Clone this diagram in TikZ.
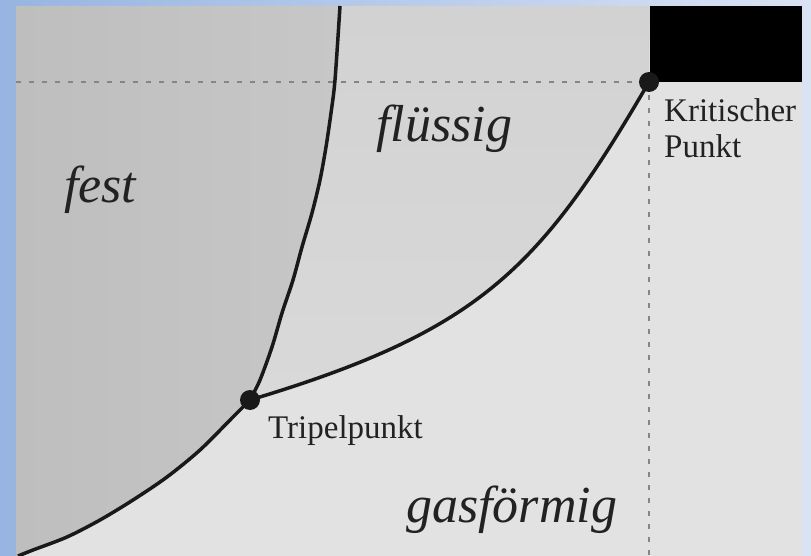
\documentclass[tikz,border=0pt]{standalone}
\usepackage{fontspec}
\setmainfont{Liberation Serif}
\definecolor{blueL}{HTML}{97B4E2}
\definecolor{blueR}{HTML}{D9E3F4}
\definecolor{gascol}{HTML}{E2E2E2}
\definecolor{liqA}{HTML}{D2D2D2}
\definecolor{liqB}{HTML}{D9D9D9}
\definecolor{festA}{HTML}{BEBEBE}
\definecolor{festB}{HTML}{C7C7C7}
\definecolor{dashcol}{HTML}{858585}
\definecolor{txt}{HTML}{222222}
\def\melt{(340,6) (335,80) (331,113) (326,147) (320,180) (312,213) (302,247) (293,280) (282,313) (272,347) (260,380) (250,400)}
\def\subl{(250,400) (233,417) (200,450) (167,477) (133,500) (100,520) (67,537) (33,550) (18,556)}
\def\meltr{(250,400) (260,380) (272,347) (282,313) (293,280) (302,247) (312,213) (320,180) (326,147) (331,113) (335,80) (340,6)}
\begin{document}
\begin{tikzpicture}[x=1pt,y=-1pt,
  curve/.style={line width=3.5pt, draw=black!90},
  dashline/.style={line width=2pt, draw=dashcol, dash pattern=on 5pt off 8pt},
  phase/.style={font=\fontsize{52}{54}\selectfont\itshape, text=txt, inner sep=0pt, anchor=base west},
  lbl/.style={font=\fontsize{33}{36}\selectfont, text=txt, inner sep=0pt, anchor=base west},
  dot/.style={fill=black!90}]
\useasboundingbox (0,0) rectangle (811,556);
\shade[left color=blueL, right color=blueR] (0,0) rectangle (811,556);
\fill[gascol] (16,6) rectangle (802,556);
\coordinate (tp) at (250,400);
\coordinate (cp) at (649,82);
\coordinate (hl) at (16,82);
\coordinate (vb) at (649,556);
% solid region
\shade[left color=festA, right color=festB]
  (16,6) -- plot[smooth] coordinates \melt -- plot[smooth] coordinates \subl -- (16,556) -- cycle;
% liquid region
\shade[top color=liqA, bottom color=liqB]
  (340,6) -- (650,6) -- (cp) .. controls (540,269) and (480,331) .. (tp)
  -- plot[smooth] coordinates \meltr -- cycle;
% black corner
\fill[black] (650,6) rectangle (802,82);
\draw[dashline] (hl) -- (cp);
\draw[dashline] (cp) -- (vb);
\draw[curve] plot[smooth] coordinates \melt;
\draw[curve] plot[smooth] coordinates \subl;
\draw[curve] (tp) .. controls (480,331) and (540,269) .. (cp);
\fill[dot] (tp) circle[radius=10pt];
\fill[dot] (cp) circle[radius=10pt];
\node[phase] (fest) at (64,203) {fest};
\node[phase] (fl) at (376,142) {flüssig};
\node[phase] (gas) at (406,522) {gasförmig};
\node[lbl] (tl) at (268,438) {Tripelpunkt};
\node[lbl] (kl1) at (664,122) {Kritischer};
\node[lbl] (kl2) at (664,158) {Punkt};
\end{tikzpicture}
\end{document}
